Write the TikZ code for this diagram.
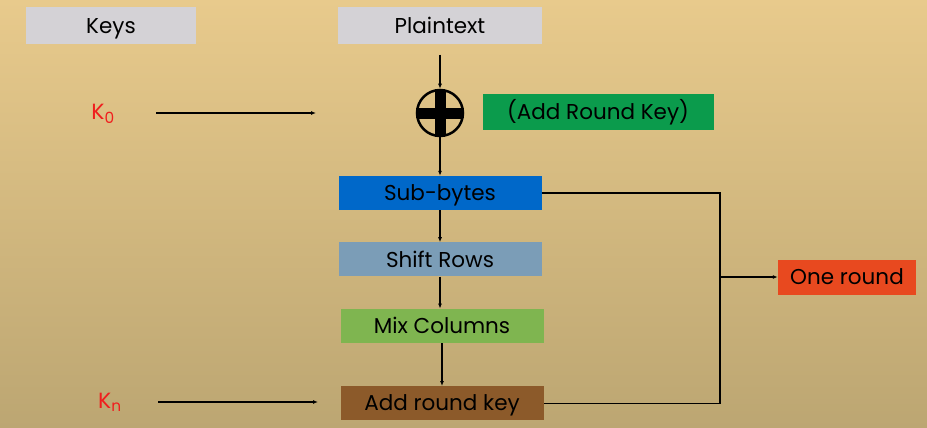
\documentclass[tikz,border=0pt]{standalone}
\usepackage{fontspec}
\setmainfont{Poppins}
\usepackage{xcolor}
\usetikzlibrary{arrows.meta,positioning,calc}
\definecolor{BgTop}{HTML}{E8CA8C}
\definecolor{BgBot}{HTML}{BCA672}
\definecolor{KeyGrey}{HTML}{D4D2D6}
\definecolor{RoundGreen}{HTML}{0B9B4C}
\definecolor{SubBlue}{HTML}{0068C9}
\definecolor{ShiftBlue}{HTML}{7B9DB7}
\definecolor{MixGreen}{HTML}{7FB550}
\definecolor{AddBrown}{HTML}{8C5A2A}
\definecolor{RoundRed}{HTML}{E8491F}
\definecolor{KeyRed}{HTML}{F01E1E}

\begin{document}
\begin{tikzpicture}[x=1pt,y=-1pt,
  box/.style={inner sep=0pt,minimum width=203pt,minimum height=34pt,
    text height=15.5pt,text depth=0pt,font=\fontsize{21.5}{24}\selectfont},
  head/.style={box,fill=KeyGrey,minimum height=37pt},
  klabel/.style={text=KeyRed,font=\fontsize{22}{24}\selectfont},
  arr/.style={-{Latex[length=5pt,width=4pt]},line width=1.1pt},
  wire/.style={line width=1.1pt}
]
\shade[top color=BgTop,bottom color=BgBot] (0,0) rectangle (927,428);
\useasboundingbox (0,0) rectangle (927,428);

% headers
\node[head,minimum width=170pt] (keys) at (111,26) {Keys};
\node[head,minimum width=204pt] (plain) at (440,26) {Plaintext};

% xor
\node[circle,draw,line width=2.5pt,minimum size=46pt,inner sep=0pt] (xor) at (440,113) {};
\fill ($(xor.center)+(-5.5,-22)$) rectangle ($(xor.center)+(5.5,22)$);
\fill ($(xor.center)+(-22,-5.5)$) rectangle ($(xor.center)+(22,5.5)$);
\node[box,fill=RoundGreen,minimum width=231pt,minimum height=35pt] (ark0) at (598,112) {(Add Round Key)};

% round steps
\node[box,fill=SubBlue] (sub) at (440,193) {Sub-bytes};
\node[box,fill=ShiftBlue,below=32pt of sub] (shift) {Shift Rows};
\node[box,fill=MixGreen,below=32pt of shift,xshift=2pt] (mix) {Mix Columns};
\node[box,fill=AddBrown,below=43pt of mix] (ark) {Add round key};
\node[box,fill=RoundRed,minimum width=138pt,minimum height=35pt] (one) at (847,277) {One round};

% keys
\node[klabel] (k0) at (103,114) {K\textsubscript{0}};
\node[klabel] (kn) at (110,402) {K\textsubscript{n}};
\coordinate (k0end) at (316,113);
\coordinate (knend) at (318,402);
\draw[arr] ($(k0.east)+(38,-1)$) -- (k0end);
\draw[arr] ($(kn.east)+(33,0)$) -- (knend);

% flow
\draw[arr] ($(plain.south)+(0,10)$) -- (xor.north);
\draw[arr] (xor.south) -- (sub.north);
\draw[arr] (sub) -- (shift);
\draw[arr] (shift.south) -- (shift.south |- mix.north);
\draw[arr] (mix) -- (ark);

% bracket
\coordinate (br) at (720,277);
\draw[wire] (sub.east) -- (sub.east -| br) -- (ark.east -| br) -- (ark.east);
\draw[arr] (br) -- (one.west);
\end{tikzpicture}
\end{document}
